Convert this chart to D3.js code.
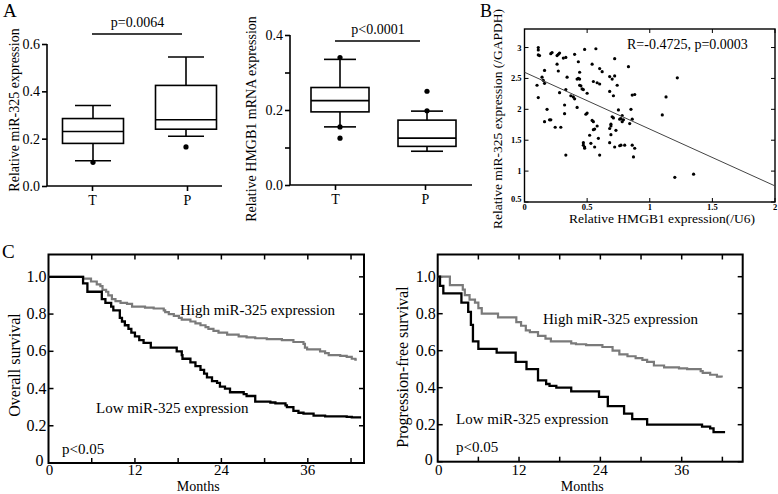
<!DOCTYPE html>
<html><head><meta charset="utf-8">
<script src="https://cdn.jsdelivr.net/npm/d3@7"></script>
<style>
body{margin:0;background:#fff}
svg{display:block}
text{font-family:"Liberation Serif","Times New Roman",Times,serif;fill:#000}
</style>
</head><body>
<svg id="c" width="778" height="494"></svg>
<script>
// ---------- DATA ----------
const boxCategories = ["T", "P"];
// [lower whisker, q1, median, q3, upper whisker]
const mirT = [0.107, 0.18, 0.23, 0.285, 0.34];
const mirP = [0.21, 0.24, 0.28, 0.425, 0.545];
const mirOutT = [0.10];
const mirOutP = [0.165];
const mirTicks = [0, 0.2, 0.4, 0.6];
const mirPText = "p=0.0064";

const hmgbT = [0.155, 0.195, 0.225, 0.26, 0.335];
const hmgbP = [0.09, 0.103, 0.125, 0.173, 0.197];
const hmgbOutT = [0.34, 0.155, 0.125];
const hmgbOutP = [0.198, 0.25];
const hmgbTicks = [0, 0.1, 0.2, 0.3, 0.4];
const hmgbTickLabels = ["0.0", "", "0.2", "", "0.4"];
const hmgbPText = "p<0.0001";

const scatterX = [0.11,0.11,0.11,0.12,0.10,0.11,0.14,0.16,0.15,0.16,0.18,0.16,0.20,0.21,0.21,0.22,0.245,0.26,0.27,0.28,0.26,0.27,0.28,0.29,0.31,0.33,0.32,0.32,0.33,0.33,0.34,0.37,0.39,0.40,0.40,0.43,0.42,0.43,0.44,0.44,0.44,0.45,0.46,0.47,0.42,0.48,0.50,0.49,0.50,0.47,0.47,0.48,0.48,0.52,0.54,0.55,0.54,0.55,0.55,0.56,0.56,0.57,0.58,0.58,0.59,0.60,0.62,0.60,0.68,0.70,0.68,0.68,0.69,0.69,0.68,0.69,0.70,0.71,0.72,0.72,0.72,0.73,0.74,0.75,0.76,0.77,0.76,0.77,0.78,0.78,0.79,0.80,0.83,0.84,0.85,0.86,0.88,0.86,0.86,0.88,0.87,0.71,0.60,0.53,1.10,1.13,1.22,1.20,1.35];
const scatterY = [3.00,2.96,2.88,2.87,2.39,2.19,2.52,2.63,2.47,2.42,2.00,1.80,1.83,1.83,2.90,2.92,1.71,2.87,2.89,2.91,2.73,2.62,2.27,1.71,2.83,2.84,2.07,1.93,2.32,1.26,2.52,2.22,2.20,2.17,2.89,2.77,2.49,2.50,2.49,2.60,2.39,2.38,2.33,2.32,2.03,2.97,2.26,1.92,1.94,1.46,1.42,1.39,1.37,1.58,2.73,2.45,1.82,1.80,1.67,1.68,1.39,2.98,2.43,1.73,1.53,2.66,2.61,1.26,2.53,2.49,2.29,1.69,1.73,1.76,1.46,1.59,1.88,1.86,2.82,2.54,1.39,1.66,2.39,1.99,1.84,1.85,1.41,1.42,1.80,1.90,1.83,1.42,2.69,1.77,2.00,2.23,2.24,1.84,1.42,1.37,1.23,2.22,2.41,1.45,1.91,2.20,2.51,0.90,0.95];
const regression = [2.6, -0.92]; // intercept, slope
const scatterXTicks = [0, 0.5, 1, 1.5, 2];
const scatterYTicks = [0.5, 1, 1.5, 2, 2.5, 3];
const corrText = "R=-0.4725, p=0.0003";

// Kaplan-Meier curves: [month, survival]
const osHigh = [[0,1],[4.8,0.99],[5.9,0.975],[6.7,0.96],[7.2,0.95],[7.5,0.93],[8.0,0.92],[8.3,0.9],[8.8,0.88],[9.3,0.87],[10.0,0.86],[10.9,0.855],[11.6,0.84],[13.4,0.835],[14.6,0.83],[16.0,0.82],[16.2,0.81],[16.7,0.8],[17.4,0.79],[18.1,0.78],[18.5,0.77],[19.7,0.76],[20.4,0.75],[21.1,0.74],[21.8,0.73],[22.2,0.72],[22.9,0.71],[23.6,0.7],[24.8,0.69],[26.4,0.68],[27.5,0.675],[28.7,0.67],[30.3,0.665],[32.4,0.66],[34.0,0.65],[35.4,0.64],[35.6,0.62],[35.9,0.61],[37.7,0.6],[38.4,0.59],[38.9,0.58],[40.5,0.575],[41.4,0.57],[42.1,0.56],[42.6,0.555],[42.8,0.555]];
const osLow = [[0,1],[4.8,0.965],[5.4,0.92],[7.4,0.88],[7.9,0.86],[8.7,0.84],[9.0,0.82],[9.9,0.78],[10.2,0.76],[10.6,0.74],[11.1,0.72],[11.5,0.7],[12.0,0.68],[12.6,0.66],[13.2,0.645],[14.2,0.62],[17.8,0.6],[18.5,0.58],[18.6,0.56],[19.7,0.54],[20.4,0.52],[21.1,0.5],[21.6,0.48],[22.0,0.46],[22.7,0.44],[23.4,0.43],[23.8,0.41],[24.5,0.4],[25.2,0.38],[27.1,0.37],[27.5,0.36],[28.7,0.33],[30.8,0.325],[31.5,0.32],[32.9,0.31],[33.1,0.3],[34.0,0.28],[34.7,0.27],[35.4,0.265],[36.8,0.255],[38.4,0.25],[41.4,0.248],[42.1,0.245],[43.4,0.245]];
const pfsHigh = [[0,1],[1.8,0.955],[3.7,0.93],[4.0,0.9],[4.7,0.876],[5.5,0.86],[6.0,0.83],[6.5,0.8],[8.9,0.78],[11.6,0.755],[12.3,0.735],[13.0,0.71],[13.6,0.7],[14.8,0.68],[15.9,0.665],[16.7,0.65],[19.7,0.64],[20.4,0.635],[21.9,0.63],[24.3,0.62],[25.8,0.6],[26.8,0.58],[28.0,0.57],[29.2,0.56],[30.2,0.55],[30.9,0.54],[31.9,0.52],[33.4,0.51],[35.6,0.505],[36.8,0.5],[38.8,0.49],[39.1,0.48],[40.2,0.47],[41.2,0.46],[41.9,0.455]];
const pfsLow = [[0,1],[0.34,0.95],[0.83,0.91],[3.5,0.86],[4.5,0.81],[4.9,0.74],[5.2,0.65],[6.0,0.61],[8.7,0.59],[11.5,0.54],[13.1,0.5],[14.8,0.44],[16.0,0.42],[16.5,0.41],[17.5,0.4],[19.7,0.38],[23.8,0.35],[25.1,0.3],[27.5,0.26],[28.7,0.23],[30.9,0.2],[39.0,0.19],[40.2,0.18],[40.7,0.16],[42.4,0.16]];
const kmYTicks = [0, 0.2, 0.4, 0.6, 0.8, 1.0];
const kmYTickLabels = ["0", "0.2", "0.4", "0.6", "0.8", "1.0"];
const kmXLabelTicks = [0, 12, 24, 36];
const kmXMinorTicks = [6, 12, 18, 24, 30, 36, 42];

// ---------- DRAW ----------
const svg = d3.select("#c");
const FS = 14;
const FF = '"Liberation Serif","Times New Roman",Times,serif';

function txt(x, y, s, opts = {}) {
  const t = svg.append("text").attr("x", x).attr("y", y).text(s)
    .style("font-family", FF)
    .style("font-size", (opts.size || FS) + "px")
    .attr("text-anchor", opts.anchor || "start");
  if (opts.weight) t.style("font-weight", opts.weight);
  if (opts.rotate) t.attr("transform", `rotate(-90,${x},${y})`);
  return t;
}

// panel labels
txt(3, 17, "A", {size: 19});
txt(480, 17, "B", {size: 18});
txt(2, 258, "C", {size: 19});

// ----- box plot helper -----
function boxPlot(cfg) {
  const y = d3.scaleLinear().domain(cfg.yDomain).range(cfg.yRange);
  const x = d3.scalePoint().domain(boxCategories).range(cfg.xRange);
  const g = svg.append("g").attr("stroke", "#000").attr("fill", "none").attr("stroke-width", 1.6);
  const yAxis = d3.axisLeft(y).tickValues(cfg.ticks).tickSize(5).tickFormat((d, i) => cfg.tickLabels[i]);
  const ga = svg.append("g").attr("transform", `translate(${cfg.axisX},0)`).call(yAxis);
  ga.select(".domain").attr("stroke-width", 1.6).attr("d", `M-0,${cfg.yRange[0]}V${cfg.yRange[1]}`);
  ga.selectAll(".tick line").attr("stroke-width", 1.6);
  ga.selectAll(".tick text").style("font-size", FS + "px").style("font-family", FF).attr("x", -7);
  const xAxis = d3.axisBottom(x).tickSize(5);
  const gx = svg.append("g").attr("transform", `translate(0,${cfg.yRange[0]})`).call(xAxis);
  gx.select(".domain").attr("stroke-width", 1.6).attr("d", `M${cfg.axisX},0H${cfg.axisEnd}`);
  gx.selectAll(".tick line").attr("stroke-width", 1.6);
  gx.selectAll(".tick text").style("font-size", FS + "px").style("font-family", FF).attr("y", 9);
  const sets = [cfg.T, cfg.P];
  const outs = [cfg.outT, cfg.outP];
  boxCategories.forEach((c, i) => {
    const cx = x(c) + cfg.offsets[i], s = sets[i], hw = cfg.boxW / 2, cw = cfg.capW / 2;
    g.append("rect").attr("x", cx - hw).attr("y", y(s[3])).attr("width", cfg.boxW).attr("height", y(s[1]) - y(s[3]));
    g.append("line").attr("x1", cx - hw).attr("x2", cx + hw).attr("y1", y(s[2])).attr("y2", y(s[2]));
    g.append("line").attr("x1", cx).attr("x2", cx).attr("y1", y(s[3])).attr("y2", y(s[4]));
    g.append("line").attr("x1", cx).attr("x2", cx).attr("y1", y(s[1])).attr("y2", y(s[0]));
    g.append("line").attr("x1", cx - cw).attr("x2", cx + cw).attr("y1", y(s[4])).attr("y2", y(s[4]));
    g.append("line").attr("x1", cx - cw).attr("x2", cx + cw).attr("y1", y(s[0])).attr("y2", y(s[0]));
    svg.selectAll(null).data(outs[i]).enter().append("circle")
      .attr("cx", cx).attr("cy", d => y(d)).attr("r", 2.6).attr("fill", "#000");
  });
  svg.append("line").attr("x1", x("T")).attr("x2", x("P") - 5).attr("y1", cfg.barY).attr("y2", cfg.barY)
    .attr("stroke", "#000").attr("stroke-width", 1.6);
  txt((x("T") + x("P")) / 2 - 2, cfg.barY - 7, cfg.pText, {anchor: "middle"});
  txt(cfg.titleX, cfg.titleY, cfg.title, {anchor: "middle", rotate: true});
}

boxPlot({yDomain: [0, 0.6], yRange: [186, 44], xRange: [92, 187], axisX: 47, axisEnd: 222,
  ticks: mirTicks, tickLabels: mirTicks.map(d => d.toFixed(1)), T: mirT, P: mirP, outT: mirOutT, outP: mirOutP,
  boxW: 61, capW: 36, offsets: [1, -1], barY: 34, pText: mirPText,
  title: "Relative miR-325 expression", titleX: 19, titleY: 110});

boxPlot({yDomain: [0, 0.4], yRange: [185, 35], xRange: [335, 425], axisX: 290, axisEnd: 472,
  ticks: hmgbTicks, tickLabels: hmgbTickLabels, T: hmgbT, P: hmgbP, outT: hmgbOutT, outP: hmgbOutP,
  boxW: 58, capW: 32, offsets: [5, 2], barY: 41, pText: hmgbPText,
  title: "Relative HMGB1 mRNA expression", titleX: 256, titleY: 119});

// ----- scatter (B) -----
(function () {
  const L = 524.5, R = 775, T = 29, B = 202;
  const x = d3.scaleLinear().domain([0, 2]).range([L, R]);
  const y = d3.scaleLinear().domain([0.5, 3.3]).range([B, T]);
  const tl = 4;
  const g = svg.append("g");
  g.append("rect").attr("x", L).attr("y", T).attr("width", R - L).attr("height", B - T)
    .attr("fill", "none").attr("stroke", "#000").attr("stroke-width", 1.4);
  scatterXTicks.forEach(v => {
    g.append("line").attr("x1", x(v)).attr("x2", x(v)).attr("y1", B).attr("y2", B - tl).attr("stroke", "#000");
    g.append("line").attr("x1", x(v)).attr("x2", x(v)).attr("y1", T).attr("y2", T + tl).attr("stroke", "#000");
    txt(x(v), B + 8, String(v), {size: 8.5, weight: "bold", anchor: "middle"});
  });
  scatterYTicks.forEach(v => {
    g.append("line").attr("x1", L).attr("x2", L + tl).attr("y1", y(v)).attr("y2", y(v)).attr("stroke", "#000");
    g.append("line").attr("x1", R).attr("x2", R - tl).attr("y1", y(v)).attr("y2", y(v)).attr("stroke", "#000");
    txt(L - 3, y(v) + (v === 0.5 ? 0 : 3), String(v), {size: 8.5, weight: "bold", anchor: "end"});
  });
  g.selectAll("circle").data(scatterX).enter().append("circle")
    .attr("cx", d => x(d)).attr("cy", (d, i) => y(scatterY[i])).attr("r", 1.6).attr("fill", "#000");
  g.append("line").attr("x1", x(0)).attr("x2", x(2))
    .attr("y1", y(regression[0])).attr("y2", y(regression[0] + regression[1] * 2))
    .attr("stroke", "#444").attr("stroke-width", 1);
  txt(627, 49, corrText, {size: 14});
  txt(662, 223, "Relative HMGB1 expression(/U6)", {anchor: "middle", size: 13.5});
  txt(502, 119, "Relative miR-325 expression (/GAPDH)", {anchor: "middle", rotate: true, size: 13.5});
})();

// ----- Kaplan-Meier (C) -----
function kmPlot(cfg) {
  const x = d3.scaleLinear().domain([0, cfg.xMax]).range([cfg.L, cfg.R]);
  const y = d3.scaleLinear().domain([0, 1.12]).range([cfg.B, cfg.T]);
  const g = svg.append("g");
  const tl = 5;
  g.append("rect").attr("x", cfg.L).attr("y", cfg.T).attr("width", cfg.R - cfg.L).attr("height", cfg.B - cfg.T)
    .attr("fill", "none").attr("stroke", "#000").attr("stroke-width", 2);
  kmXMinorTicks.forEach(v => {
    g.append("line").attr("x1", x(v)).attr("x2", x(v)).attr("y1", cfg.T).attr("y2", cfg.T + tl).attr("stroke", "#000").attr("stroke-width", 1.5);
    g.append("line").attr("x1", x(v)).attr("x2", x(v)).attr("y1", cfg.B).attr("y2", cfg.B - tl).attr("stroke", "#000").attr("stroke-width", 1.5);
  });
  kmXLabelTicks.forEach(v => txt(x(v) + (v === 0 ? 1 : 0), 474.5, String(v), {size: 15, anchor: "middle"}));
  kmYTicks.forEach((v, i) => {
    g.append("line").attr("x1", cfg.L).attr("x2", cfg.L + tl).attr("y1", y(v)).attr("y2", y(v)).attr("stroke", "#000").attr("stroke-width", 1.5);
    g.append("line").attr("x1", cfg.R).attr("x2", cfg.R - tl).attr("y1", y(v)).attr("y2", y(v)).attr("stroke", "#000").attr("stroke-width", 1.5);
    txt(cfg.L - (v === 0 ? 5 : 2), y(v) + (v === 0 ? 3 : 5), kmYTickLabels[i], {size: 16, anchor: "end"});
  });
  const line = d3.line().x(d => x(d[0])).y(d => y(d[1])).curve(d3.curveStepAfter);
  g.append("path").attr("d", line(cfg.high)).attr("fill", "none").attr("stroke", "#7a7a7a").attr("stroke-width", 2.2);
  g.append("path").attr("d", line(cfg.low)).attr("fill", "none").attr("stroke", "#000").attr("stroke-width", 2.3);
  txt(cfg.highX, cfg.highY, "High miR-325 expression", {size: 15});
  txt(cfg.lowX, cfg.lowY, "Low miR-325 expression", {size: 15});
  txt(cfg.pX, cfg.pY, "p<0.05", {size: 15});
  txt((cfg.L + cfg.R) / 2 - 8, 490.5, "Months", {size: 14, anchor: "middle"});
  txt(cfg.titleX, cfg.titleY, cfg.title, {size: 16, anchor: "middle", rotate: true});
}

kmPlot({L: 48.5, R: 364, T: 254.5, B: 463, xMax: 43.8, high: osHigh, low: osLow,
  highX: 180, highY: 315, lowX: 96, lowY: 413, pX: 62, pY: 454,
  title: "Overall survival", titleX: 20, titleY: 365});
kmPlot({L: 437.7, R: 742.7, T: 254.5, B: 461.7, xMax: 45, high: pfsHigh, low: pfsLow,
  highX: 543, highY: 324, lowX: 456, lowY: 424, pX: 456, pY: 452,
  title: "Progression-free survival", titleX: 408, titleY: 367});
</script>
</body></html>
